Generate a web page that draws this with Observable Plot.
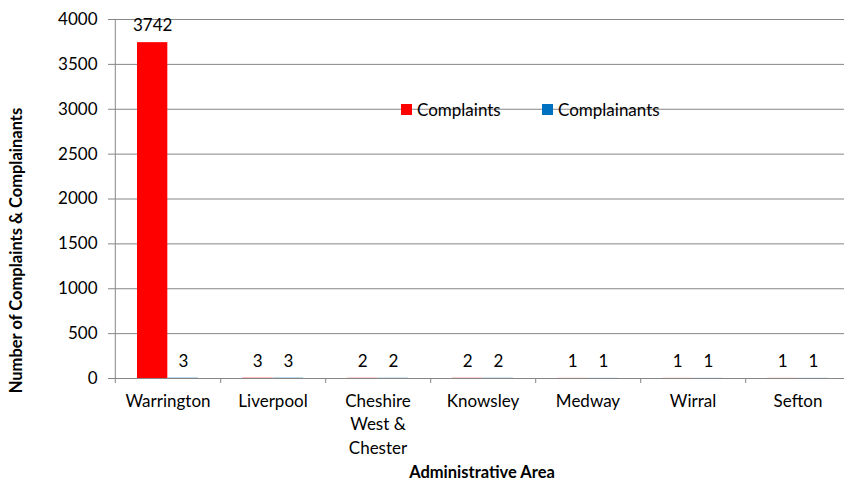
<!DOCTYPE html>
<html>
<head>
<meta charset="utf-8">
<script src="https://cdn.jsdelivr.net/npm/d3@7"></script>
<script src="https://cdn.jsdelivr.net/npm/@observablehq/plot@0.6"></script>
<style>
  html, body { margin: 0; padding: 0; background: #fff; overflow: hidden; }
  #chart { position: relative; width: 844px; height: 482px; overflow: hidden; font-family: Lato, "Open Sans", sans-serif; }
  #legend { position: absolute; left: 401px; top: 99px; display: flex; font-size: 17px; color: #000; }
  #legend .item { display: flex; align-items: center; width: 141px; height: 20px; }
  #legend .sw { width: 11px; height: 11px; margin-right: 5px; flex: none; }
</style>
</head>
<body>
<div id="chart"></div>
<script>
// ---- data ----
const areas = ["Warrington", "Liverpool", "Cheshire West & Chester", "Knowsley", "Medway", "Wirral", "Sefton"];
const areaLabels = ["Warrington", "Liverpool", "Cheshire\nWest &\nChester", "Knowsley", "Medway", "Wirral", "Sefton"];
const series = ["Complaints", "Complainants"];
const complaints = [3742, 3, 2, 2, 1, 1, 1];
const complainants = [3, 3, 2, 2, 1, 1, 1];
const yTicks = [0, 500, 1000, 1500, 2000, 2500, 3000, 3500, 4000];
const seriesColors = ["#FF0000", "#0070C0"];
const yTitle = "Number of Complaints & Complainants";
const xTitle = "Administrative Area";

// ---- table ----
const rows = areas.flatMap((a, i) => [
  {area: a, series: series[0], value: complaints[i]},
  {area: a, series: series[1], value: complainants[i]}
]);
const labelOf = new Map(areas.map((a, i) => [a, areaLabels[i]]));

// ---- layout ----
const xRange = [114, 852];
const step = (xRange[1] - xRange[0]) / areas.length;
const padIn = 0.418;
const half = step * (1 - padIn) / 2;
const gray = "#868686";
const fs = 17;

const plot = Plot.plot({
  width: 844,
  height: 482,
  marginLeft: 114,
  marginRight: 0,
  marginTop: 19,
  marginBottom: 104,
  style: {fontFamily: "Lato, 'Open Sans', sans-serif", fontSize: fs + "px", color: "#000", background: "#fff", overflow: "visible"},
  x: {domain: areas, range: xRange, paddingInner: padIn, paddingOuter: padIn / 2, label: null},
  y: {domain: [0, 4000], label: null},
  color: {domain: series, range: seriesColors},
  marks: [
    Plot.gridY(yTicks, {stroke: gray, strokeOpacity: 1, strokeWidth: 1}),
    Plot.barY(rows.filter(d => d.series === series[0]), {x: "area", y: "value", fill: "series", insetRight: half}),
    Plot.barY(rows.filter(d => d.series === series[1]), {x: "area", y: "value", fill: "series", insetLeft: half}),
    Plot.text(rows.filter(d => d.series === series[0]), {x: "area", y: "value", text: d => String(d.value), dx: -half / 2, dy: -17, fontSize: fs, fill: "#000"}),
    Plot.text(rows.filter(d => d.series === series[1]), {x: "area", y: "value", text: d => String(d.value), dx: half / 2, dy: -17, fontSize: fs, fill: "#000"}),
    // vertical axis line
    Plot.ruleX([areas[0]], {x: d => d, dx: -step / 2, y1: 4000, y2: 0, insetBottom: -5, stroke: gray}),
    // category boundary ticks
    Plot.ruleX(areas, {x: d => d, dx: step / 2, y1: 0, y2: 0, insetBottom: -5, stroke: gray}),
    Plot.ruleY([0], {stroke: gray}),
    Plot.axisY(yTicks, {tickSize: 6, tickPadding: 11, tickFormat: d => String(d), stroke: gray, fontSize: fs, fill: "#000", label: null}),
    Plot.axisX({tickSize: 0, tickPadding: 12, tickFormat: d => labelOf.get(d), lineHeight: 1.37, fontSize: fs, fill: "#000", label: null}),
    Plot.text([yTitle], {text: d => d, frameAnchor: "left", textAnchor: "middle", lineAnchor: "middle", dx: -98, dy: 51.5, rotate: -90, fontWeight: "bold", fontSize: 16.5, fill: "#000"}),
    Plot.text([xTitle], {text: d => d, frameAnchor: "bottom", textAnchor: "middle", lineAnchor: "middle", dx: 2.5, dy: 94, fontWeight: "bold", fontSize: 16.5, fill: "#000"})
  ]
});

const chart = document.getElementById("chart");
chart.appendChild(plot);

// legend
const colorScale = plot.scale("color");
const legend = d3.select(chart).append("div").attr("id", "legend");
const items = legend.selectAll(".item").data(colorScale.domain).join("div").attr("class", "item");
items.append("div").attr("class", "sw").style("background", (d, i) => colorScale.range[i]);
items.append("span").text(d => d);
</script>
</body>
</html>
